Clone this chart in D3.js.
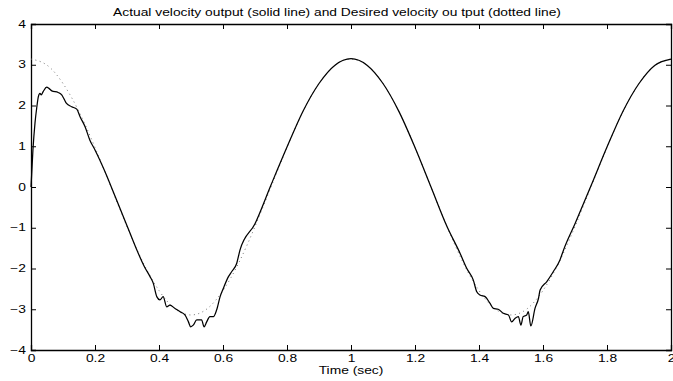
<!DOCTYPE html>
<html>
<head>
<meta charset="utf-8">
<script src="https://cdn.jsdelivr.net/npm/d3@7"></script>
<style>
  body { margin: 0; background: #fff; }
  text { font-family: "Liberation Sans", Arial, sans-serif; }
</style>
</head>
<body>
<script>
// desired velocity (dotted), every 0.05 s
var desiredT = [0, 0.05, 0.1, 0.15, 0.2, 0.25, 0.3, 0.35, 0.4, 0.45, 0.5, 0.55, 0.6, 0.65, 0.7, 0.75, 0.8, 0.85, 0.9, 0.95, 1.0,
                1.05, 1.1, 1.15, 1.2, 1.25, 1.3, 1.35, 1.4, 1.45, 1.5, 1.55, 1.6, 1.65, 1.7, 1.75, 1.8, 1.85, 1.9, 1.95, 2.0];
var desiredV = [3.14, 2.99, 2.54, 1.85, 0.97, 0.0, -0.97, -1.85, -2.54, -2.99, -3.14, -2.99, -2.54, -1.85, -0.97, 0.0, 0.97, 1.85, 2.54, 2.99, 3.14,
                2.99, 2.54, 1.85, 0.97, 0.0, -0.97, -1.85, -2.54, -2.99, -3.14, -2.99, -2.54, -1.85, -0.97, 0.0, 0.97, 1.85, 2.54, 2.99, 3.14];

// actual velocity (solid)
var actualT = [0, 0.006, 0.0125, 0.018, 0.023, 0.028, 0.032, 0.038, 0.049, 0.056, 0.065, 0.085, 0.096, 0.104, 0.111, 0.127, 0.143, 0.153, 0.169, 0.184, 0.2,
               0.231, 0.25, 0.3, 0.356, 0.372, 0.382, 0.393, 0.403, 0.413, 0.424, 0.434, 0.45, 0.466, 0.481, 0.492, 0.499, 0.507, 0.518, 0.533, 0.541,
               0.549, 0.559, 0.57, 0.58, 0.591, 0.601, 0.617, 0.627, 0.643, 0.653, 0.7, 0.75, 0.8, 0.85, 0.9, 0.95, 1.0, 1.05, 1.1, 1.15, 1.2, 1.25,
               1.3, 1.341, 1.362, 1.382, 1.393, 1.403, 1.419, 1.434, 1.445, 1.46, 1.476, 1.492, 1.502, 1.513, 1.523, 1.531, 1.538, 1.549, 1.554, 1.562,
               1.575, 1.586, 1.591, 1.612, 1.632, 1.653, 1.664, 1.7, 1.75, 1.8, 1.85, 1.9, 1.95, 2.0];
var actualV = [0, 0.9, 1.57, 1.95, 2.22, 2.3, 2.26, 2.34, 2.45, 2.42, 2.36, 2.32, 2.26, 2.15, 2.05, 1.97, 1.91, 1.73, 1.48, 1.15, 0.91,
               0.38, 0.02, -0.95, -1.98, -2.2, -2.36, -2.69, -2.77, -2.69, -2.94, -2.9, -2.98, -3.06, -3.14, -3.31, -3.43, -3.39, -3.26, -3.26, -3.43,
               -3.31, -3.18, -3.18, -3.02, -2.69, -2.49, -2.2, -2.08, -1.87, -1.55, -0.9, 0.05, 0.98, 1.86, 2.54, 2.99, 3.15, 2.99, 2.54, 1.85, 0.97, 0.0,
               -0.97, -1.63, -2.0, -2.28, -2.57, -2.65, -2.69, -2.85, -2.98, -3.0, -3.1, -3.14, -3.31, -3.22, -3.18, -3.39, -3.18, -3.14, -3.06, -3.41,
               -2.98, -2.73, -2.53, -2.32, -2.08, -1.79, -1.55, -0.9, 0.03, 0.98, 1.86, 2.54, 2.99, 3.14];

var xTicks = [0, 0.2, 0.4, 0.6, 0.8, 1, 1.2, 1.4, 1.6, 1.8, 2];
var yTicks = [-4, -3, -2, -1, 0, 1, 2, 3, 4];

var titleText = "Actual velocity output (solid line) and Desired velocity ou tput (dotted line)";
var xLabel = "Time (sec)";

var margin = {top: 24, right: 2, bottom: 31, left: 31},
    width = 673 - margin.left - margin.right,
    height = 381 - margin.top - margin.bottom;

// the reference text is wide for its height, so stretch it sideways
var sx = 1.38;

var svg = d3.select("body")
  .append("svg")
    .attr("width", 673)
    .attr("height", 381);

var g = svg.append("g")
    .attr("transform", "translate(" + margin.left + "," + margin.top + ")");

var x = d3.scaleLinear().domain([0, 2]).range([0, width]);
var y = d3.scaleLinear().domain([-4, 4]).range([height, 0]);

var fmt = function(d) { return d < 0 ? "\u2212" + Math.abs(d) : String(d); };

// axes with inward ticks on all four sides (matlab box)
var xAxis = g.append("g")
    .attr("transform", "translate(0," + height + ")")
    .call(d3.axisBottom(x).tickValues(xTicks).tickSize(-5).tickFormat(fmt));
g.append("g")
    .call(d3.axisTop(x).tickValues(xTicks).tickSize(-5).tickFormat(""));
var yAxis = g.append("g")
    .call(d3.axisLeft(y).tickValues(yTicks).tickSize(-5).tickFormat(fmt));
g.append("g")
    .attr("transform", "translate(" + width + ",0)")
    .call(d3.axisRight(y).tickValues(yTicks).tickSize(-5).tickFormat(""));

g.selectAll(".domain").attr("stroke", "#000").attr("stroke-width", 1.3);
g.selectAll(".tick line").attr("stroke", "#000");
g.selectAll(".tick text")
    .attr("fill", "#000")
    .style("font-size", "10px")
    .attr("transform", "scale(" + sx + ",1)");

xAxis.selectAll(".tick text").attr("y", 12).attr("dy", 0);
yAxis.selectAll(".tick text").attr("x", -5 / sx);

var desired = desiredT.map(function(t, i) { return [t, desiredV[i]]; });
var actual = actualT.map(function(t, i) { return [t, actualV[i]]; });

g.append("path")
    .datum(desired)
    .attr("fill", "none")
    .attr("stroke", "#666")
    .attr("stroke-width", 0.9)
    .attr("stroke-dasharray", "1,3.5")
    .attr("d", d3.line()
      .curve(d3.curveNatural)
      .x(function(d) { return x(d[0]); })
      .y(function(d) { return y(d[1]); }));

g.append("path")
    .datum(actual)
    .attr("fill", "none")
    .attr("stroke", "#000")
    .attr("stroke-width", 1.25)
    .attr("stroke-linejoin", "round")
    .attr("d", d3.line()
      .curve(d3.curveMonotoneX)
      .x(function(d) { return x(d[0]); })
      .y(function(d) { return y(d[1]); }));

svg.append("text")
    .attr("x", 337 / sx)
    .attr("y", 16)
    .attr("transform", "scale(" + sx + ",1)")
    .attr("text-anchor", "middle")
    .style("font-size", "10px")
    .text(titleText);

svg.append("text")
    .attr("x", 351 / sx)
    .attr("y", 374)
    .attr("transform", "scale(" + sx + ",1)")
    .attr("text-anchor", "middle")
    .style("font-size", "10px")
    .text(xLabel);
</script>
</body>
</html>
